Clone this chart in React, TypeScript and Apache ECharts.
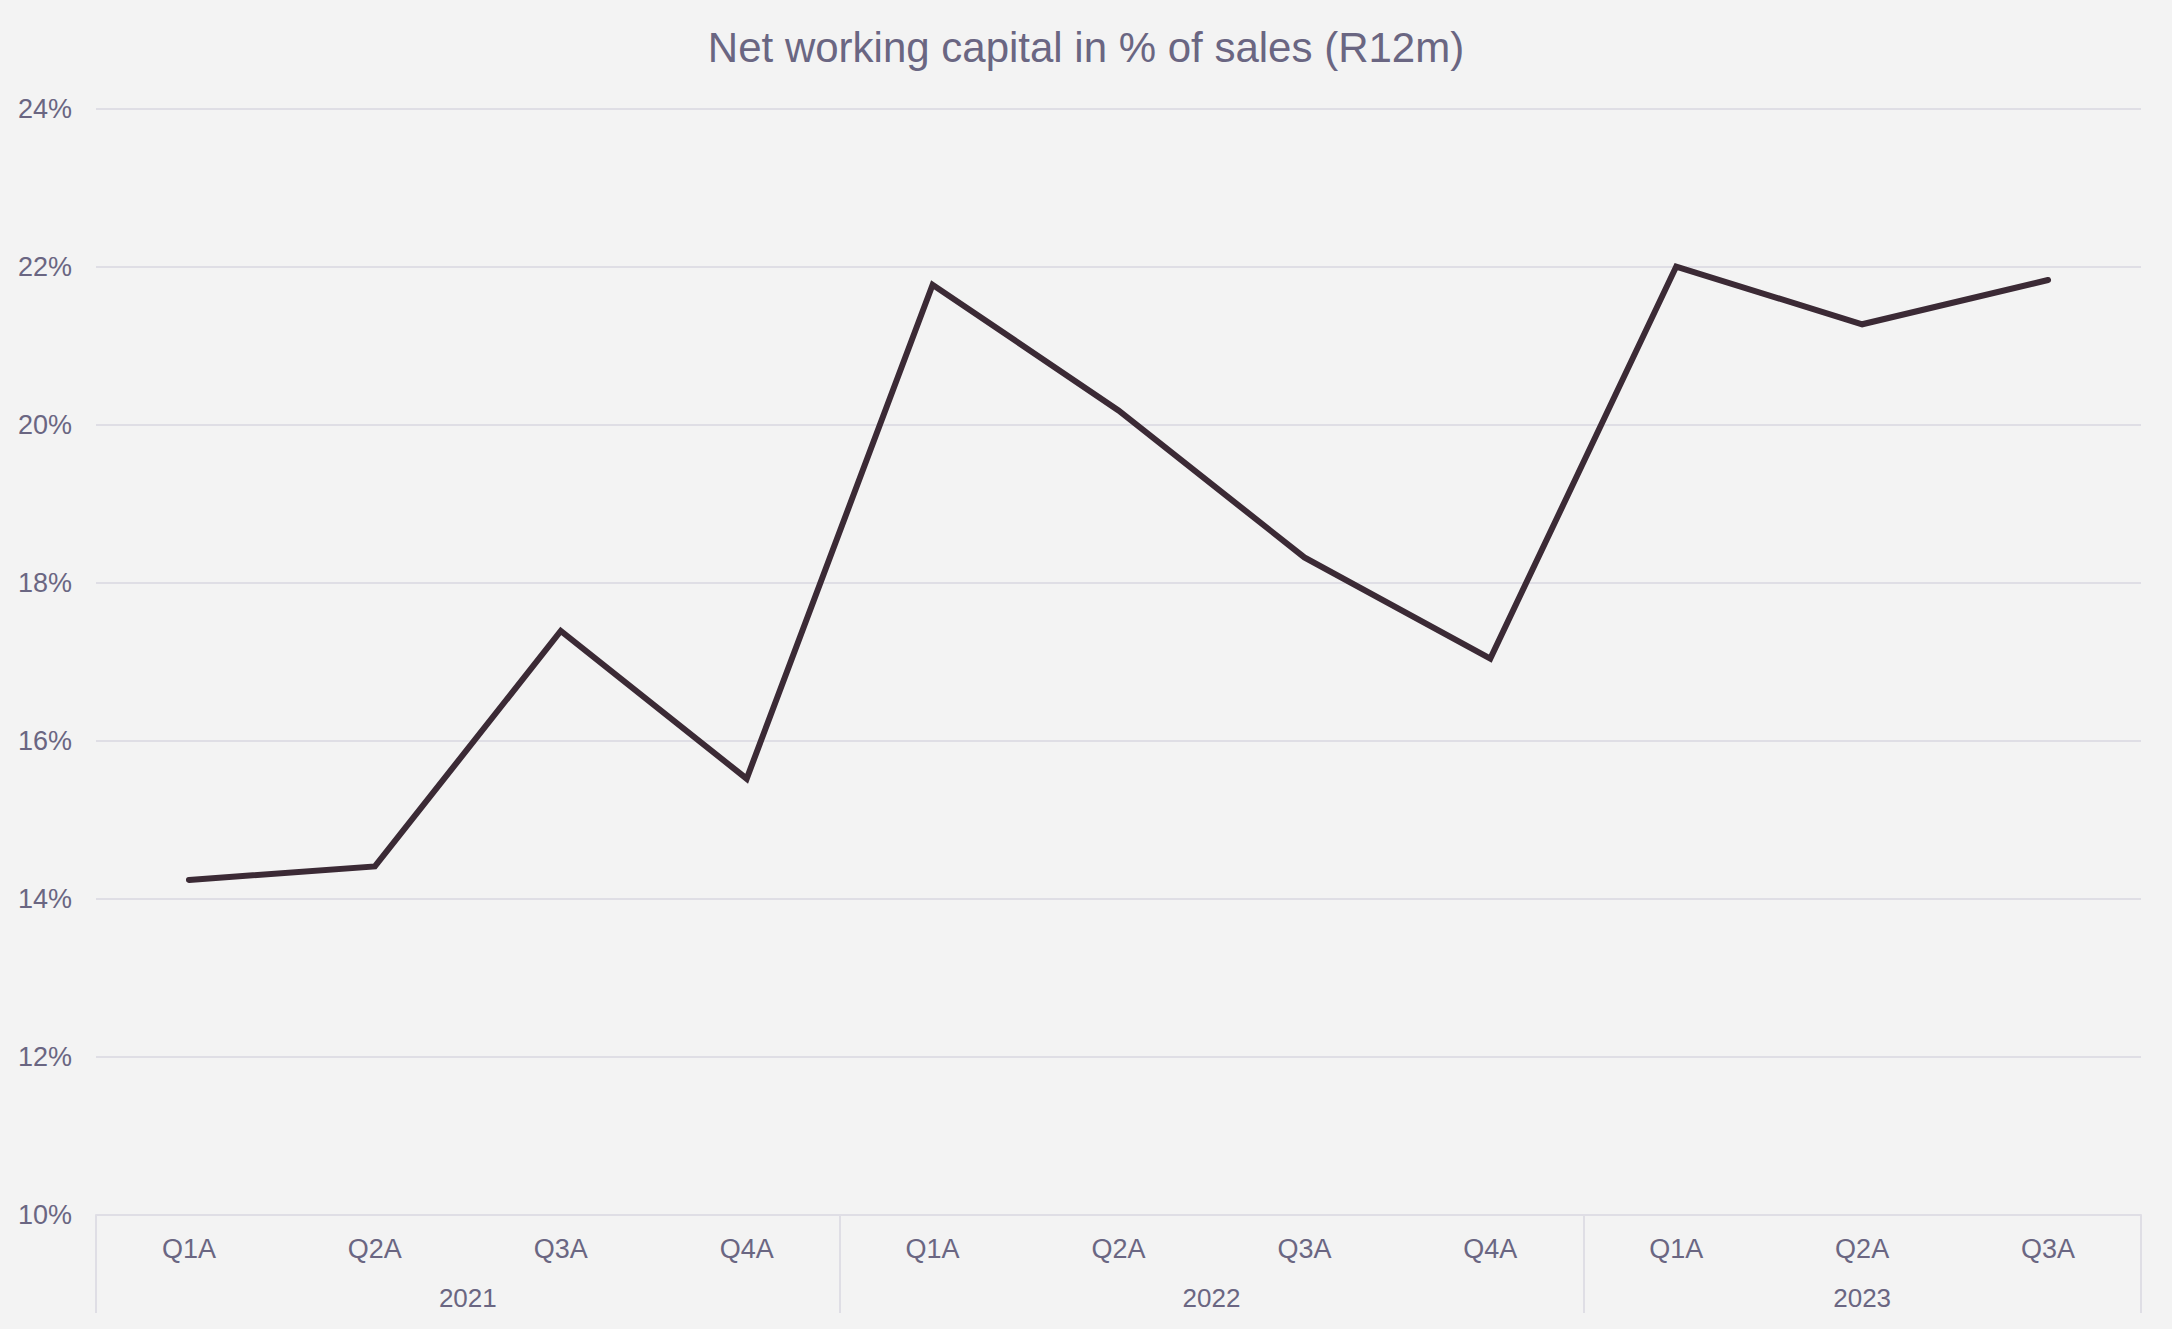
import React, { useEffect, useRef } from "react";
import * as echarts from "echarts";

const quarters = ["Q1A", "Q2A", "Q3A", "Q4A", "Q1A", "Q2A", "Q3A", "Q4A", "Q1A", "Q2A", "Q3A"];
const years = ["2021", "2022", "2023"];
const quartersPerYear = [4, 4, 3];
const nwcPct = [14.24, 14.41, 17.39, 15.52, 21.77, 20.18, 18.32, 17.04, 22.0, 21.27, 21.83];
const yTicks = { min: 10, max: 24, interval: 2 };

const TEXT = "#6a6682";
const GRID = "#dfdee5";
const FONT = "Liberation Sans, Arial, sans-serif";

export default function App() {
  const ref = useRef<HTMLDivElement>(null);
  useEffect(() => {
    document.body.style.margin = "0";
    const chart = echarts.init(ref.current!, null, { renderer: "svg" });
    const bounds: number[] = [0];
    quartersPerYear.forEach((n) => bounds.push(bounds[bounds.length - 1] + n));
    const centers = quartersPerYear.map((n, i) => bounds[i] + n / 2);
    chart.setOption({
      animation: false,
      backgroundColor: "#f3f3f3",
      title: {
        text: "Net working capital in % of sales (R12m)",
        left: "center",
        top: 21,
        textStyle: { color: TEXT, fontSize: 42, fontWeight: "normal", fontFamily: FONT },
      },
      grid: { left: 96, right: 31, top: 108.5, bottom: 114, containLabel: false },
      xAxis: [
        {
          type: "category",
          data: quarters,
          boundaryGap: true,
          axisLine: { show: true, lineStyle: { color: GRID, width: 2 } },
          axisTick: { show: false },
          axisLabel: { color: TEXT, fontSize: 27, margin: 20, fontFamily: FONT },
        },
        {
          type: "value",
          min: 0,
          max: quarters.length,
          position: "bottom",
          axisLine: { show: false },
          splitLine: { show: false },
          axisTick: {
            show: true,
            customValues: bounds,
            length: 98,
            lineStyle: { color: GRID, width: 2 },
          },
          axisLabel: {
            customValues: centers,
            color: TEXT,
            fontSize: 26,
            margin: 70,
            fontFamily: FONT,
            formatter: (v: number) => {
              const i = centers.findIndex((c) => Math.abs(c - v) < 1e-6);
              return i >= 0 ? years[i] : "";
            },
          },
        },
      ],
      yAxis: {
        type: "value",
        min: yTicks.min,
        max: yTicks.max,
        interval: yTicks.interval,
        axisLine: { show: false },
        axisTick: { show: false },
        splitLine: { show: true, lineStyle: { color: GRID, width: 2 } },
        axisLabel: {
          color: TEXT,
          fontSize: 27,
          margin: 24,
          formatter: "{value}%",
          fontFamily: FONT,
        },
      },
      series: [
        {
          type: "line",
          xAxisIndex: 0,
          data: nwcPct,
          showSymbol: false,
          symbol: "none",
          lineStyle: { color: "#3b2a35", width: 6, join: "miter", cap: "round" },
        },
      ],
    });
    return () => chart.dispose();
  }, []);
  return <div ref={ref} style={{ width: 2172, height: 1329 }} />;
}
